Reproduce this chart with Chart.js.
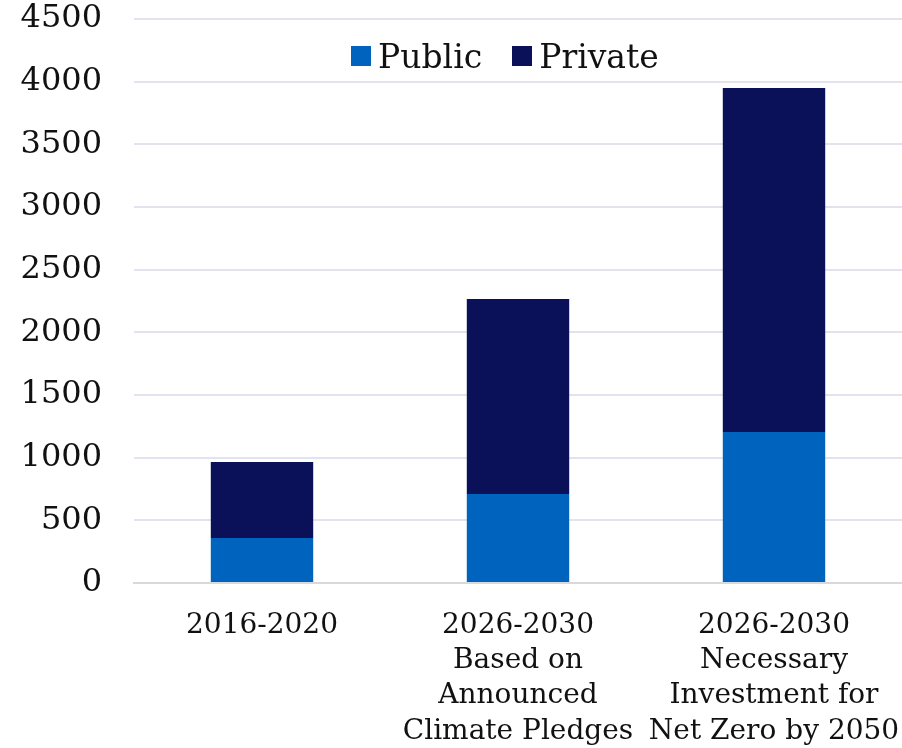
<!DOCTYPE html>
<html>
<head>
<meta charset="utf-8">
<script src="https://cdn.jsdelivr.net/npm/chart.js@4/dist/chart.umd.min.js"></script>
<style>
  html, body { margin: 0; padding: 0; background: #fff; }
  #wrap { position: relative; width: 902px; height: 748px; }
  #legend { position: absolute; left: 351px; top: 36px; height: 40px; font-family: 'DejaVu Serif', serif; font-size: 33px; color: #111; display: flex; align-items: center; }
  #legend span.box { display: inline-block; width: 20px; height: 20px; margin-right: 7px; }
  #legend span.item { display: flex; align-items: center; margin-right: 30px; background: #fff; }
</style>
</head>
<body>
<div id="wrap">
  <canvas id="chart" width="902" height="748"></canvas>
  <div id="legend"></div>
</div>
<script>
const CATEGORIES = [
  ['2016-2020'],
  ['2026-2030', 'Based on', 'Announced', 'Climate Pledges'],
  ['2026-2030', 'Necessary', 'Investment for', 'Net Zero by 2050']
];
const PUBLIC = [360, 710, 1205];
const PRIVATE = [605, 1555, 2745];
const SERIES_NAMES = ['Public', 'Private'];
const COLORS = ['#0063BE', '#0A1158'];

const legendEl = document.getElementById('legend');
SERIES_NAMES.forEach((name, i) => {
  legendEl.innerHTML += '<span class="item"><span class="box" style="background:' + COLORS[i] + '"></span>' + name + '</span>';
});

const config = {
  type: 'bar',
  data: {
    labels: CATEGORIES,
    datasets: [
      { label: SERIES_NAMES[0], data: PUBLIC, backgroundColor: COLORS[0] },
      { label: SERIES_NAMES[1], data: PRIVATE, backgroundColor: COLORS[1] }
    ]
  },
  options: {
    responsive: false,
    animation: false,
    datasets: { bar: { barPercentage: 0.8, categoryPercentage: 0.5 } },
    layout: { padding: 0 },
    plugins: { legend: { display: false }, tooltip: { enabled: false } },
    scales: {
      x: {
        stacked: true,
        grid: { display: false },
        border: { color: '#D9D9D9', width: 2 },
        ticks: {
          color: '#111',
          padding: 17,
          maxRotation: 0,
          autoSkip: false,
          font: { family: 'DejaVu Serif', size: 28, lineHeight: 1.26 }
        },
        afterFit: scale => {
          scale.height = 165;
          scale.paddingLeft = 0;
          scale.paddingRight = 0;
        }
      },
      y: {
        stacked: true,
        min: 0,
        max: 4500,
        ticks: {
          stepSize: 500,
          color: '#111',
          padding: 32,
          font: { family: 'DejaVu Serif', size: 32 },
          callback: v => String(v)
        },
        grid: { color: '#E1E4EF', lineWidth: 2, drawTicks: false },
        border: { display: false },
        afterFit: scale => {
          scale.width = 134;
          scale.paddingTop = 19;
        }
      }
    }
  }
};

const chart = new Chart(document.getElementById('chart'), config);
</script>
</body>
</html>
